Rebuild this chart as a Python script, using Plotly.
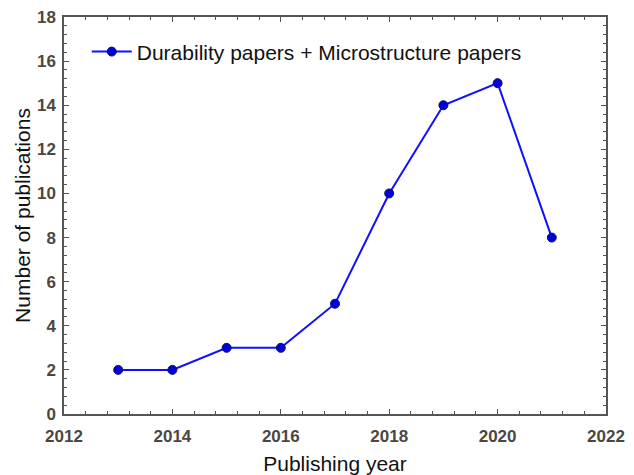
import plotly.graph_objects as go

# Publications per year
years = [2013, 2014, 2015, 2016, 2017, 2018, 2019, 2020, 2021]
counts = [2, 2, 3, 3, 5, 10, 14, 15, 8]
series_name = "Durability papers + Microstructure papers"

tick_color = "#4d463f"
axis_color = "#555555"
tick_font = dict(family="Liberation Sans Narrow, Arial Narrow, Arial", size=17,
                 color=tick_color, weight="bold")
title_font = dict(family="Arial", size=21, color="#111")

fig = go.Figure()
fig.add_trace(go.Scatter(
    x=years, y=counts, mode="lines+markers", name=series_name,
    line=dict(color="#1010ff", width=2),
    marker=dict(color="#0000dd", size=9, line=dict(color="#10105a", width=1)),
))

axis_common = dict(
    showgrid=False, zeroline=False, showline=True, linecolor=axis_color,
    linewidth=1.5, mirror="allticks", ticks="inside", ticklen=5,
    tickcolor=axis_color, tickwidth=1.2, tickfont=tick_font, automargin=False,
    minor=dict(ticks="inside", ticklen=3, tickcolor=axis_color, dtick=0.4, tickwidth=1),
)

fig.update_xaxes(range=[2012, 2022], dtick=2, tick0=2012, ticklabelstandoff=6,
                 title=dict(text="Publishing year", font=title_font, standoff=17),
                 **axis_common)
fig.update_yaxes(range=[0, 18], dtick=2, tick0=0, ticklabelstandoff=3,
                 title=dict(text="Number of publications", font=title_font, standoff=1),
                 **axis_common)

fig.update_layout(
    width=634, height=475,
    margin=dict(l=64, r=28, t=17, b=61),
    plot_bgcolor="white", paper_bgcolor="white",
    showlegend=True,
    legend=dict(x=0.042, y=0.912, xanchor="left", yanchor="middle",
                bgcolor="rgba(0,0,0,0)", itemwidth=40,
                font=dict(family="Arial", size=21, color="#111")),
)

fig.write_html("out.html")
